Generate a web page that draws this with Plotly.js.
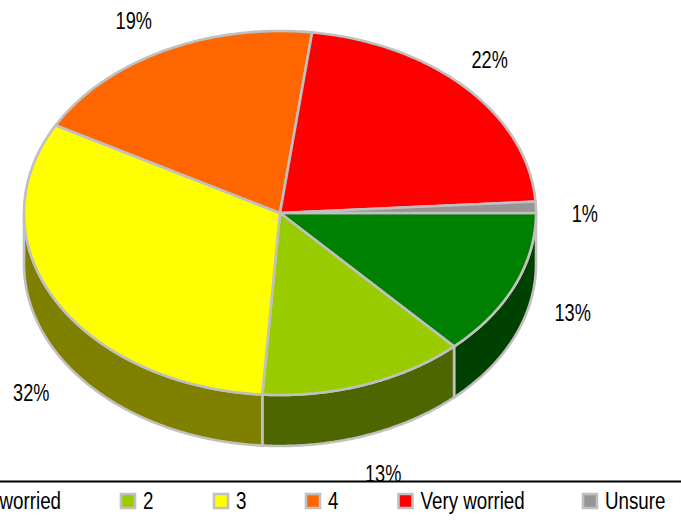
<!DOCTYPE html>
<html><head><meta charset="utf-8">
<script src="https://cdn.plot.ly/plotly-3.0.1.min.js"></script>
<style>html,body{margin:0;padding:0;background:#fff;overflow:hidden}#c{width:681px;height:523px}</style>
</head><body><div id="c"></div>
<script>
// Data
const categories = ['Not worried', '2', '3', '4', 'Very worried', 'Unsure'];
const values = [13.1, 13.0, 31.9, 19, 22, 1];
const topColors = ['#008000', '#99CC00', '#FFFF00', '#FF6600', '#FF0000', '#969696'];
const wallColors = ['#004000', '#4D6600', '#808000', '#803300', '#800000', '#4B4B4B'];

// Geometry of the tilted pie, in page pixels
const cx = 280, cy = 213, rx = 256, ry = 182, depth = 51;
const edge = '#C0C0C0', edgeWidth = 2.6;
const labelFont = 'Liberation Sans, Arial, sans-serif', labelSize = 23;
const condenseLabel = 0.79, condenseLegend = 0.815;
const labelDx = [58, 18, -24, -30, 23, 49];
const labelDy = [27, 89, 93, -30, -28, 7];
const legendSwatchX = [-60, 128, 221, 313, 405.5, 590];
const legendY = 501, ruleY = 481.5;

const px = a => cx + rx * Math.cos(a * Math.PI / 180);
const py = a => cy + ry * Math.sin(a * Math.PI / 180);
const total = values.reduce((s, v) => s + v, 0);

const walls = [], tops = [], annotations = [];
let from = 0;
values.forEach((v, i) => {
  const to = from + v / total * 360;
  const ang = [];
  for (let k = 0; k <= 90; k++) ang.push(from + (to - from) * k / 90);
  const lo = from, hi = Math.min(to, 180);
  if (lo < 180) {
    const wa = [];
    for (let k = 0; k <= 90; k++) wa.push(lo + (hi - lo) * k / 90);
    const rev = wa.slice().reverse();
    walls.push({
      type: 'scatter', mode: 'lines', fill: 'toself', fillcolor: wallColors[i],
      x: wa.map(px).concat(rev.map(px), [px(lo)]),
      y: wa.map(py).concat(rev.map(a => py(a) + depth), [py(lo)]),
      line: {color: edge, width: edgeWidth, simplify: false}, hoverinfo: 'skip'
    });
  }
  tops.push({
    type: 'scatter', mode: 'lines', fill: 'toself', fillcolor: topColors[i],
    x: [cx].concat(ang.map(px), [cx]),
    y: [cy].concat(ang.map(py), [cy]),
    line: {color: edge, width: edgeWidth, simplify: false}, hoverinfo: 'skip'
  });
  const mid = (from + to) / 2;
  annotations.push({
    xref: 'x', yref: 'y', x: px(mid) + labelDx[i], y: py(mid) + labelDy[i],
    text: Math.round(v) + '%', showarrow: false, xanchor: 'center', yanchor: 'middle',
    font: {family: labelFont, size: labelSize, color: '#000'}
  });
  from = to;
});

const swatches = {
  type: 'scatter', mode: 'markers', x: legendSwatchX, y: legendSwatchX.map(() => legendY),
  marker: {symbol: 'square', size: 14, color: topColors, line: {color: edge, width: 2.6}},
  hoverinfo: 'skip'
};
categories.forEach((c, i) => {
  annotations.push({
    xref: 'x', yref: 'y', x: legendSwatchX[i] + 15, y: legendY,
    text: c, showarrow: false, xanchor: 'left', yanchor: 'middle',
    font: {family: labelFont, size: labelSize, color: '#000'}, borderpad: 0
  });
});
annotations[6].x = 61; annotations[6].xanchor = 'right';

Plotly.newPlot('c', walls.concat(tops, [swatches]), {
  width: 681, height: 523, margin: {l: 0, r: 0, t: 0, b: 0},
  paper_bgcolor: '#fff', plot_bgcolor: '#fff', showlegend: false, hovermode: false,
  xaxis: {range: [0, 681], visible: false, fixedrange: true},
  yaxis: {range: [523, 0], visible: false, fixedrange: true},
  shapes: [{type: 'line', xref: 'x', yref: 'y', x0: 0, x1: 681, y0: ruleY, y1: ruleY,
    line: {color: '#000', width: 2}}],
  annotations
}, {displayModeBar: false, staticPlot: true}).then(gd => {
  // The reference type is a condensed face: squeeze the real text horizontally,
  // then put each text back on its anchor.
  const texts = gd.querySelectorAll('.annotation-text');
  texts.forEach((t, i) => {
    const a = annotations[i];
    if (!a) return;
    const k = i < values.length ? condenseLabel : condenseLegend;
    t.setAttribute('textLength', (t.getComputedTextLength() * k).toFixed(2));
    t.setAttribute('lengthAdjust', 'spacingAndGlyphs');
    const r = t.getBoundingClientRect();
    const now = a.xanchor === 'left' ? r.left : a.xanchor === 'right' ? r.right : (r.left + r.right) / 2;
    t.setAttribute('x', parseFloat(t.getAttribute('x') || 0) + (a.x - now));
  });
});
</script></body></html>
